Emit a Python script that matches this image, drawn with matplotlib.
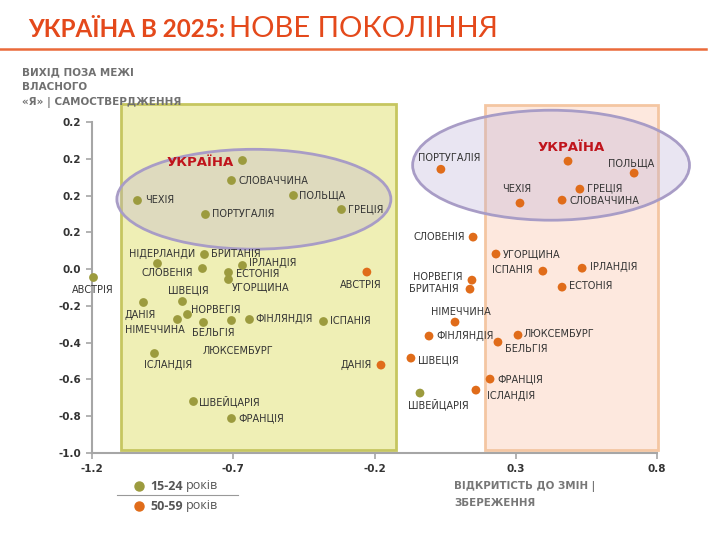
import matplotlib
matplotlib.use('Agg')
import matplotlib.pyplot as plt
from matplotlib.patches import Rectangle, Ellipse
from matplotlib.lines import Line2D

# ---------------- data ----------------
young_countries = ['АВСТРІЯ', 'ЧЕХІЯ', 'УКРАЇНА', 'СЛОВАЧЧИНА', 'ПОЛЬЩА', 'ГРЕЦІЯ',
                   'ПОРТУГАЛІЯ', 'БРИТАНІЯ', 'НІДЕРЛАНДИ', 'СЛОВЕНІЯ', 'ІРЛАНДІЯ',
                   'ЕСТОНІЯ', 'УГОРЩИНА', 'ШВЕЦІЯ', 'ДАНІЯ', 'НІМЕЧЧИНА', 'НОРВЕГІЯ',
                   'БЕЛЬГІЯ', 'ЛЮКСЕМБУРГ', 'ФІНЛЯНДІЯ', 'ІСПАНІЯ', 'ІСЛАНДІЯ',
                   'ШВЕЙЦАРІЯ', 'ФРАНЦІЯ']
young_x = [-1.196, -1.041, -0.669, -0.708, -0.488, -0.319, -0.800, -0.804, -0.970,
           -0.811, -0.669, -0.719, -0.719, -0.881, -1.019, -0.899, -0.864, -0.807,
           -0.708, -0.644, -0.382, -0.981, -0.842, -0.708]
young_y = [-0.043, 0.375, 0.592, 0.484, 0.402, 0.326, 0.299, 0.082, 0.033, 0.005,
           0.022, -0.016, -0.054, -0.174, -0.179, -0.272, -0.245, -0.288, -0.277,
           -0.272, -0.283, -0.457, -0.717, -0.810]

old_countries = ['АВСТРІЯ', 'ДАНІЯ', 'ПОРТУГАЛІЯ', 'УКРАЇНА', 'ПОЛЬЩА', 'ЧЕХІЯ',
                 'ГРЕЦІЯ', 'СЛОВАЧЧИНА', 'СЛОВЕНІЯ', 'УГОРЩИНА', 'ІСПАНІЯ', 'ІРЛАНДІЯ',
                 'ЕСТОНІЯ', 'НОРВЕГІЯ', 'БРИТАНІЯ', 'НІМЕЧЧИНА', 'ФІНЛЯНДІЯ',
                 'ЛЮКСЕМБУРГ', 'БЕЛЬГІЯ', 'ШВЕЦІЯ', 'ФРАНЦІЯ', 'ІСЛАНДІЯ', 'ШВЕЙЦАРІЯ']
old_x = [-0.227, -0.177, 0.035, 0.485, 0.719, 0.315, 0.527, 0.464, 0.149, 0.230,
         0.396, 0.535, 0.464, 0.145, 0.138, 0.085, -0.007, 0.308, 0.237, -0.071,
         0.209, 0.159, -0.039]
old_y = [-0.016, -0.522, 0.543, 0.587, 0.522, 0.359, 0.435, 0.375, 0.174, 0.082,
         -0.011, 0.005, -0.098, -0.060, -0.109, -0.288, -0.364, -0.359, -0.397,
         -0.484, -0.598, -0.658, -0.674]
# the reference draws the 50-59 Switzerland point in the 15-24 colour
old_point_group = ['old'] * 22 + ['young']

x_ticks = [-1.2, -0.7, -0.2, 0.3, 0.8]
x_tick_labels = ['-1.2', '-0.7', '-0.2', '0.3', '0.8']
y_ticks = [-1.0, -0.8, -0.6, -0.4, -0.2, 0.0, 0.2, 0.4, 0.6, 0.8]
y_tick_labels = ['-1.0', '-0.8', '-0.6', '-0.4', '-0.2', '0.0', '0.2', '0.2', '0.2', '0.2']

legend_labels = [('15-24', 'років'), ('50-59', 'років')]

title_part1 = 'УКРАЇНА В 2025:'
title_part2 = 'НОВЕ ПОКОЛІННЯ'
y_title = 'ВИХІД ПОЗА МЕЖІ\nВЛАСНОГО\n«Я» | САМОСТВЕРДЖЕННЯ'
x_title = 'ВІДКРИТІСТЬ ДО ЗМІН |\nЗБЕРЕЖЕННЯ'

# ---------------- styles / label placement (pixels: dx right, dy down) ----------------
GREEN = '#9c9b3e'
ORANGE = '#e06c1a'
LABEL_COL = '#333333'
RED = '#c0141c'
W, H = 720, 540

young_place = {
    'АВСТРІЯ': (0, 13, 'center'), 'ЧЕХІЯ': (8, 0, 'left'), 'УКРАЇНА': (-8, 2, 'right'),
    'СЛОВАЧЧИНА': (8, 1, 'left'), 'ПОЛЬЩА': (6, 0, 'left'), 'ГРЕЦІЯ': (7, 0, 'left'),
    'ПОРТУГАЛІЯ': (7, 0, 'left'), 'БРИТАНІЯ': (7, 0, 'left'),
    'НІДЕРЛАНДИ': (5, -9, 'center'), 'СЛОВЕНІЯ': (-9, 5, 'right'),
    'ІРЛАНДІЯ': (7, -2, 'left'), 'ЕСТОНІЯ': (8, 2, 'left'), 'УГОРЩИНА': (4, 8, 'left'),
    'ШВЕЦІЯ': (6, -11, 'center'), 'ДАНІЯ': (-3, 13, 'center'),
    'НІМЕЧЧИНА': (-22, 11, 'center'), 'НОРВЕГІЯ': (4, -4, 'left'),
    'БЕЛЬГІЯ': (10, 11, 'center'), 'ЛЮКСЕМБУРГ': (7, 31, 'center'),
    'ФІНЛЯНДІЯ': (6, 0, 'left'), 'ІСПАНІЯ': (7, 0, 'left'),
    'ІСЛАНДІЯ': (14, 12, 'center'), 'ШВЕЙЦАРІЯ': (6, 1, 'left'), 'ФРАНЦІЯ': (7, 0, 'left'),
}
old_place = {
    'АВСТРІЯ': (-6, 13, 'center'), 'ДАНІЯ': (-9, 0, 'right'),
    'ПОРТУГАЛІЯ': (8, -11, 'center'), 'УКРАЇНА': (3, -14, 'center'),
    'ПОЛЬЩА': (-3, -10, 'center'), 'ЧЕХІЯ': (-3, -14, 'center'),
    'ГРЕЦІЯ': (7, -1, 'left'), 'СЛОВАЧЧИНА': (7, 1, 'left'), 'СЛОВЕНІЯ': (-8, 0, 'right'),
    'УГОРЩИНА': (7, 0, 'left'), 'ІСПАНІЯ': (-10, -1, 'right'), 'ІРЛАНДІЯ': (8, -1, 'left'),
    'ЕСТОНІЯ': (7, -1, 'left'), 'НОРВЕГІЯ': (-9, -3, 'right'), 'БРИТАНІЯ': (-11, 0, 'right'),
    'НІМЕЧЧИНА': (6, -10, 'center'), 'ФІНЛЯНДІЯ': (7, 0, 'left'),
    'ЛЮКСЕМБУРГ': (6, -1, 'left'), 'БЕЛЬГІЯ': (7, 7, 'left'), 'ШВЕЦІЯ': (7, 2, 'left'),
    'ФРАНЦІЯ': (7, 0, 'left'), 'ІСЛАНДІЯ': (11, 6, 'left'), 'ШВЕЙЦАРІЯ': (18, 11, 'center'),
}

plt.rcParams['font.family'] = ['DejaVu Sans']

fig = plt.figure(figsize=(7.2, 5.4), dpi=100)
fig.patch.set_facecolor('white')


def fx(px):
    return px / W


def fy(py):
    return 1 - py / H


ax = fig.add_axes([fx(92), fy(453), fx(657) - fx(92), fy(122) - fy(453)])
ax.set_xlim(-1.2, 0.8)
ax.set_ylim(-1.0, 0.8)
ax.patch.set_alpha(0)

# background zones
ax.add_patch(Rectangle((-1.097, -0.984), 0.973, 1.881, facecolor='#efefb5',
                       edgecolor='#c6c660', lw=2, zorder=0, clip_on=False))
ax.add_patch(Rectangle((0.191, -0.984), 0.613, 1.875, facecolor='#fde8de',
                       edgecolor='#f4c6a2', lw=2, zorder=0, clip_on=False))
# ellipses
for cx, cy, w, h in [(-0.627, 0.380, 0.970, 0.543), (0.425, 0.565, 0.980, 0.598)]:
    ax.add_patch(Ellipse((cx, cy), w, h, facecolor='#b8acd6', alpha=0.3,
                         edgecolor='none', zorder=1, clip_on=False))
    ax.add_patch(Ellipse((cx, cy), w, h, facecolor='none', edgecolor='#a89cc6',
                         lw=2, zorder=1, clip_on=False))

# points
ax.scatter(young_x, young_y, s=40, color=GREEN, zorder=3, clip_on=False, linewidths=0)
old_cols = [ORANGE if g == 'old' else GREEN for g in old_point_group]
ax.scatter(old_x, old_y, s=40, color=old_cols, zorder=3, clip_on=False, linewidths=0)


def put_labels(names, xs, ys, place):
    for n, x, y in zip(names, xs, ys):
        dx, dy, ha = place[n]
        if n == 'УКРАЇНА':
            kw = dict(fontsize=9.5, fontweight='bold', color=RED)
        else:
            kw = dict(fontsize=7, color=LABEL_COL)
        ax.annotate(n, (x, y), xytext=(dx, -dy), textcoords='offset pixels',
                    ha=ha, va='center', zorder=4, annotation_clip=False, **kw)


put_labels(young_countries, young_x, young_y, young_place)
put_labels(old_countries, old_x, old_y, old_place)

# axes styling
for s in ['top', 'right']:
    ax.spines[s].set_visible(False)
for s in ['left', 'bottom']:
    ax.spines[s].set_color('#a6a6a6')
    ax.spines[s].set_linewidth(1.5)
ax.set_xticks(x_ticks)
ax.set_xticklabels(x_tick_labels)
ax.set_yticks(y_ticks)
ax.set_yticklabels(y_tick_labels)
ax.tick_params(axis='both', colors='#a6a6a6', length=4, width=1.2, labelsize=7.5,
               labelcolor='#333333', pad=4)
for t in ax.get_xticklabels() + ax.get_yticklabels():
    t.set_fontweight('bold')

# title
fig.text(fx(28), fy(37), title_part1, fontsize=17.5, fontweight='bold', color='#e4491b',
         family='Lato', va='baseline', ha='left')
fig.text(fx(229), fy(37), title_part2, fontsize=21, color='#e4491b',
         family='Lato', va='baseline', ha='left')
fig.add_artist(Line2D([0, fx(706)], [fy(49), fy(49)], transform=fig.transFigure,
                      color='#ea6a3a', lw=1.8))

# axis titles
fig.text(fx(22), fy(67), y_title, fontsize=7.5, fontweight='bold', color='#707070',
         va='top', ha='left', linespacing=1.65)
fig.text(fx(454), fy(481), x_title, fontsize=7.4, fontweight='bold', color='#777777',
         va='top', ha='left', linespacing=1.75)

# legend
fig.add_artist(Line2D([fx(117), fx(238)], [fy(495), fy(495)], transform=fig.transFigure,
                      color='#999999', lw=0.8))
fig.canvas.draw()
r = fig.canvas.get_renderer()
for (bold, rest), col, py in zip(legend_labels, [GREEN, ORANGE], [486, 506]):
    fig.add_artist(Line2D([fx(139)], [fy(py)], transform=fig.transFigure, marker='o',
                          markersize=6.5, color=col, linestyle='none'))
    t1 = fig.text(fx(150), fy(py), bold, fontsize=9, fontweight='bold', color='#555555',
                  family='Open Sans', va='center', ha='left')
    bb = t1.get_window_extent(renderer=r)
    fig.text(bb.x1 / W + fx(3), fy(py), rest, fontsize=9, color='#555555',
             family='Open Sans', va='center', ha='left')

fig.savefig('out.png', dpi=100)
